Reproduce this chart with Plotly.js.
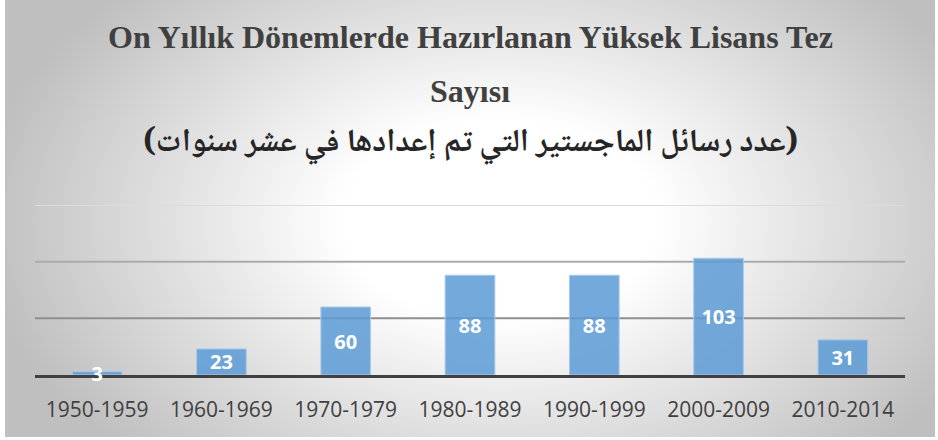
<!DOCTYPE html>
<html>
<head>
<meta charset="utf-8">
<script src="https://cdn.plot.ly/plotly-3.0.1.min.js"></script>
<style>
  html, body { margin: 0; padding: 0; background: #ffffff; }
  #wrap { position: relative; width: 938px; height: 440px; }
  #bg { position: absolute; left: 5px; top: 0px; width: 930px; height: 437px;
        background: radial-gradient(ellipse 520px 330px at 495px 220px, #ffffff 0%, #ffffff 30%, #bfbfbf 100%); }
  #chart { position: absolute; left: 0; top: 0; width: 938px; height: 440px; }
</style>
</head>
<body>
<div id="wrap"><div id="bg"></div><div id="chart"></div></div>
<script>
// ---- data ----
const periods = ["1950-1959", "1960-1969", "1970-1979", "1980-1989", "1990-1999", "2000-2009", "2010-2014"];
const thesisCounts = [3, 23, 60, 88, 88, 103, 31];
const gridValues = [50, 100, 150];
const titleLine1 = "On Yıllık Dönemlerde Hazırlanan Yüksek Lisans Tez";
const titleLine2 = "Sayısı";
const titleLine3 = "(عدد رسائل الماجستير التي تم إعدادها في عشر سنوات)";

// ---- layout geometry ----
const W = 938, H = 440;
const M = { l: 35, r: 33, t: 205, b: 64.5 };
const plotH = H - M.t - M.b;
function pyToPaper(py) { return (H - M.b - py) / plotH; }

const bars = {
  type: "bar",
  x: periods,
  y: thesisCounts,
  text: thesisCounts.map(String),
  textposition: "inside",
  insidetextanchor: "middle",
  textangle: 0,
  constraintext: "none",
  textfont: { family: "Open Sans, sans-serif", size: 20, color: "#ffffff", weight: 700 },
  marker: { color: "rgba(91,155,213,0.85)", line: { color: "#a9cbea", width: 1 } },
  hoverinfo: "x+y",
  cliponaxis: false
};

const gridColors = ["#8f8f8f", "#ababab", "#dcdcdc"];
const shapes = gridValues.map((v, i) => ({
  type: "line", xref: "paper", yref: "y", x0: 0, x1: 1, y0: v, y1: v,
  line: { color: gridColors[i], width: 2 }, layer: "below"
}));

const serif = "Liberation Serif, Times New Roman, serif";
const annotations = [
  { text: "<b>" + titleLine1 + "</b>", x: 0.5, y: pyToPaper(37), font: { family: serif, size: 32, color: "#404040" } },
  { text: "<b>" + titleLine2 + "</b>", x: 0.5, y: pyToPaper(91), font: { family: serif, size: 32, color: "#404040" } },
  { text: "<b>" + titleLine3 + "</b>", x: 0.5, y: pyToPaper(144), font: { family: "Noto Naskh Arabic, Noto Sans Arabic, DejaVu Sans, sans-serif", size: 32, color: "#262626" } }
].map(a => Object.assign({ xref: "paper", yref: "paper", xanchor: "center", yanchor: "middle", showarrow: false }, a));

const layout = {
  width: W, height: H,
  margin: M,
  paper_bgcolor: "rgba(0,0,0,0)",
  plot_bgcolor: "rgba(0,0,0,0)",
  showlegend: false,
  bargap: 0.6,
  xaxis: {
    type: "category",
    showline: true, linecolor: "#404040", linewidth: 3,
    ticks: "", showgrid: false, zeroline: false,
    tickfont: { family: "Open Sans, sans-serif", size: 21, color: "#404040" },
    ticklabelstandoff: 14,
    layer: "below traces"
  },
  yaxis: {
    range: [0, 150], showgrid: false, zeroline: false, showticklabels: false, ticks: "", fixedrange: true
  },
  shapes: shapes,
  annotations: annotations
};

Plotly.newPlot("chart", [bars], layout, { displayModeBar: false, staticPlot: true });
</script>
</body>
</html>
